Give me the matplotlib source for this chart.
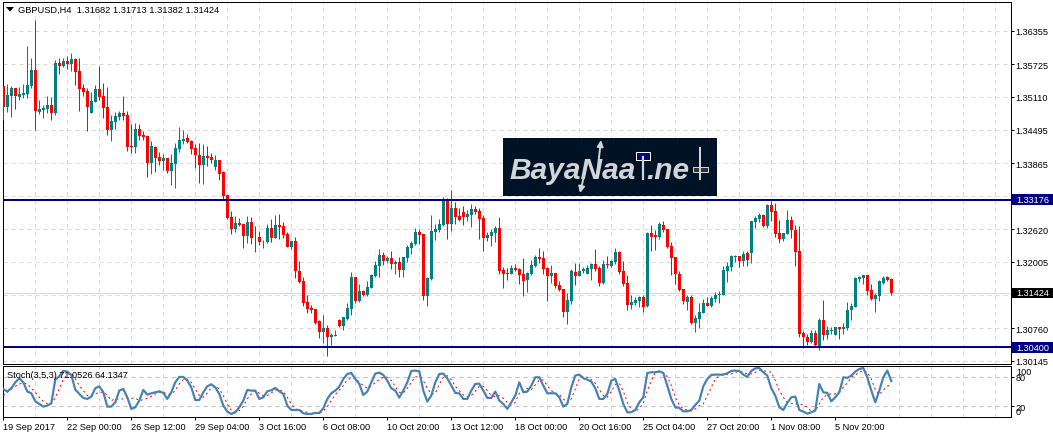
import matplotlib
matplotlib.use("Agg")
import matplotlib.pyplot as plt
from matplotlib.patches import Rectangle
import numpy as np

# GBPUSD H4 bars, one entry per candle
opens = [
    1.35326, 1.34918, 1.35137, 1.35288, 1.35119, 1.35156, 1.35175, 1.35326, 1.35627, 1.34836,
    1.34874, 1.34893, 1.34968, 1.34817, 1.35758, 1.35702, 1.35796, 1.35740, 1.35834, 1.35608,
    1.35288, 1.35231, 1.34817, 1.35024, 1.35269, 1.35137, 1.34930, 1.34498, 1.34648, 1.34742,
    1.34817, 1.34780, 1.34196, 1.34178, 1.34516, 1.34403, 1.34385, 1.33876, 1.34178, 1.33989,
    1.33914, 1.33971, 1.33726, 1.33858, 1.34140, 1.34291, 1.34347, 1.34291, 1.34159, 1.34027,
    1.33839, 1.34008, 1.33989, 1.33801, 1.33933, 1.33707, 1.33275, 1.32861, 1.32635, 1.32748,
    1.32729, 1.32503, 1.32767, 1.32484, 1.32484, 1.32397, 1.32390, 1.32654, 1.32466, 1.32710,
    1.32691, 1.32541, 1.32296, 1.32409, 1.31844, 1.31656, 1.31261, 1.31148, 1.31129, 1.30904,
    1.30696, 1.30772, 1.30602, 1.30621, 1.30922, 1.30809, 1.30941, 1.31129, 1.31732, 1.31280,
    1.31468, 1.31393, 1.31525, 1.31750, 1.31939, 1.32146, 1.32033, 1.32089, 1.31976, 1.32014,
    1.31863, 1.32089, 1.32277, 1.32353, 1.32578, 1.32541, 1.31374, 1.31694, 1.32578, 1.32616,
    1.32710, 1.33181, 1.32729, 1.33030, 1.32880, 1.32955, 1.32861, 1.32898, 1.33011, 1.32974,
    1.32842, 1.32466, 1.32503, 1.32560, 1.32654, 1.31863, 1.31807, 1.31788, 1.31901, 1.31882,
    1.31788, 1.31675, 1.31788, 1.31939, 1.32108, 1.32089, 1.31901, 1.31750, 1.31801, 1.31581,
    1.31506, 1.31073, 1.31280, 1.31826, 1.31750, 1.31845, 1.31788, 1.31882, 1.31976, 1.31901,
    1.31619, 1.31976, 1.31939, 1.32014, 1.32202, 1.31845, 1.31619, 1.31205, 1.31242, 1.31280,
    1.31355, 1.31186, 1.32560, 1.32522, 1.32484, 1.32710, 1.32635, 1.32315, 1.32108, 1.31788,
    1.31506, 1.31261, 1.31355, 1.30866, 1.30941, 1.31054, 1.31242, 1.31186, 1.31318, 1.31387,
    1.31393, 1.31845, 1.31920, 1.32108, 1.32127, 1.32033, 1.32183, 1.32183, 1.32767, 1.32823,
    1.32898, 1.32691, 1.33087, 1.32974, 1.32560, 1.32447, 1.32541, 1.32804, 1.32616, 1.32221,
    1.30678, 1.30602, 1.30508, 1.30678, 1.30433, 1.30922, 1.30640, 1.30715, 1.30640, 1.30791,
    1.30753, 1.30772, 1.31111, 1.31167, 1.31694, 1.31713, 1.31769, 1.31487, 1.31318, 1.31374,
    1.31619, 1.31732, 1.31682,
]
closes = [
    1.34924, 1.35156, 1.35288, 1.35125, 1.35175, 1.35194, 1.35344, 1.35627, 1.34843, 1.34893,
    1.34912, 1.34968, 1.34811, 1.35758, 1.35702, 1.35796, 1.35740, 1.35834, 1.35589, 1.35269,
    1.35213, 1.34930, 1.35043, 1.35269, 1.35119, 1.34912, 1.34498, 1.34667, 1.34761, 1.34817,
    1.34761, 1.34178, 1.34178, 1.34516, 1.34385, 1.34366, 1.33876, 1.34196, 1.33971, 1.33914,
    1.33971, 1.33726, 1.33876, 1.34159, 1.34309, 1.34328, 1.34272, 1.34140, 1.34027, 1.33839,
    1.34008, 1.33971, 1.33933, 1.33933, 1.33669, 1.33255, 1.32836, 1.32635, 1.32748, 1.32710,
    1.32503, 1.32767, 1.32466, 1.32472, 1.32390, 1.32409, 1.32654, 1.32466, 1.32710, 1.32673,
    1.32522, 1.32296, 1.32409, 1.31844, 1.31637, 1.31242, 1.31129, 1.31111, 1.30866, 1.30696,
    1.30772, 1.30602, 1.30640, 1.30640, 1.30809, 1.30979, 1.31148, 1.31732, 1.31280, 1.31468,
    1.31393, 1.31543, 1.31769, 1.31957, 1.32146, 1.32033, 1.32089, 1.31976, 1.32014, 1.31863,
    1.32108, 1.32296, 1.32371, 1.32578, 1.32522, 1.31374, 1.31713, 1.32597, 1.32635, 1.32729,
    1.33181, 1.32729, 1.33030, 1.32861, 1.32804, 1.32861, 1.32917, 1.33011, 1.32955, 1.32823,
    1.32466, 1.32522, 1.32578, 1.32654, 1.31844, 1.31788, 1.31788, 1.31901, 1.31863, 1.31769,
    1.31656, 1.31807, 1.31957, 1.32108, 1.32070, 1.31882, 1.31750, 1.31801, 1.31562, 1.31481,
    1.31073, 1.31299, 1.31845, 1.31750, 1.31845, 1.31882, 1.31901, 1.31976, 1.31882, 1.31619,
    1.31976, 1.31957, 1.32033, 1.32202, 1.31826, 1.31600, 1.31205, 1.31261, 1.31299, 1.31355,
    1.31167, 1.32560, 1.32484, 1.32484, 1.32729, 1.32616, 1.32296, 1.32089, 1.31788, 1.31487,
    1.31280, 1.31355, 1.30866, 1.30960, 1.31073, 1.31242, 1.31186, 1.31336, 1.31393, 1.31393,
    1.31863, 1.31939, 1.32127, 1.32127, 1.32033, 1.32164, 1.32051, 1.32785, 1.32842, 1.32898,
    1.32691, 1.33087, 1.32955, 1.32541, 1.32447, 1.32560, 1.32804, 1.32616, 1.32202, 1.30659,
    1.30602, 1.30508, 1.30678, 1.30452, 1.30922, 1.30640, 1.30734, 1.30734, 1.30791, 1.30753,
    1.30791, 1.31111, 1.31186, 1.31713, 1.31732, 1.31769, 1.31468, 1.31318, 1.31393, 1.31656,
    1.31713, 1.31675, 1.31424,
]
highs = [
    1.35326, 1.35363, 1.35326, 1.35288, 1.35300, 1.35363, 1.36078, 1.35853, 1.36568, 1.35062,
    1.34968, 1.35137, 1.35112, 1.35802, 1.35853, 1.35853, 1.35878, 1.35947, 1.35846, 1.35846,
    1.35363, 1.35288, 1.35213, 1.35344, 1.35702, 1.35382, 1.35300, 1.34767, 1.34836, 1.34855,
    1.35137, 1.34855, 1.34610, 1.34629, 1.34610, 1.34479, 1.34385, 1.34291, 1.34196, 1.34083,
    1.34046, 1.33971, 1.34046, 1.34253, 1.34554, 1.34498, 1.34422, 1.34309, 1.34234, 1.34253,
    1.34234, 1.34196, 1.34065, 1.34027, 1.33933, 1.33726, 1.33275, 1.32974, 1.32880, 1.32836,
    1.32729, 1.32880, 1.32861, 1.32691, 1.32597, 1.32428, 1.32729, 1.32823, 1.32898, 1.32917,
    1.32767, 1.32578, 1.32409, 1.32484, 1.32033, 1.31732, 1.31393, 1.31205, 1.31129, 1.30922,
    1.31016, 1.30828, 1.30678, 1.30734, 1.30941, 1.30979, 1.31242, 1.31826, 1.31732, 1.31600,
    1.31487, 1.31656, 1.31788, 1.32033, 1.32258, 1.32202, 1.32127, 1.32221, 1.32051, 1.32108,
    1.32108, 1.32334, 1.32409, 1.32654, 1.32635, 1.32541, 1.31732, 1.32898, 1.32729, 1.32823,
    1.33237, 1.33218, 1.33369, 1.33143, 1.33030, 1.33068, 1.32992, 1.33105, 1.33068, 1.33030,
    1.32898, 1.32578, 1.32635, 1.32691, 1.32861, 1.31920, 1.31901, 1.31957, 1.31976, 1.31901,
    1.32089, 1.31826, 1.32051, 1.32146, 1.32277, 1.32221, 1.31920, 1.31957, 1.31801, 1.31644,
    1.31506, 1.31424, 1.31882, 1.31989, 1.31989, 1.31920, 1.31957, 1.31995, 1.32259, 1.31939,
    1.32052, 1.32127, 1.32052, 1.32277, 1.32221, 1.32033, 1.31769, 1.31393, 1.31355, 1.31374,
    1.31393, 1.32578, 1.32710, 1.32616, 1.32767, 1.32785, 1.32635, 1.32390, 1.32108, 1.31845,
    1.31506, 1.31393, 1.31393, 1.31017, 1.31242, 1.31318, 1.31355, 1.31374, 1.31449, 1.31468,
    1.31939, 1.32014, 1.32146, 1.32146, 1.32127, 1.32221, 1.32221, 1.32785, 1.32880, 1.32936,
    1.32917, 1.33105, 1.33162, 1.33124, 1.32804, 1.32560, 1.32992, 1.32880, 1.32710, 1.32691,
    1.30715, 1.30659, 1.30734, 1.30734, 1.30960, 1.31299, 1.30809, 1.30791, 1.30791, 1.30791,
    1.30866, 1.31261, 1.31242, 1.31732, 1.31750, 1.31769, 1.31769, 1.31600, 1.31430, 1.31675,
    1.31750, 1.31750, 1.31713,
]
lows = [
    1.34673, 1.34824, 1.34730, 1.34893, 1.35062, 1.35087, 1.35087, 1.35282, 1.34498, 1.34799,
    1.34711, 1.34811, 1.34686, 1.34767, 1.35551, 1.35677, 1.35645, 1.35602, 1.35344, 1.34855,
    1.35125, 1.34479, 1.34817, 1.35024, 1.35062, 1.34723, 1.34403, 1.34291, 1.34516, 1.34686,
    1.34673, 1.34102, 1.34065, 1.34065, 1.34309, 1.34309, 1.33613, 1.33669, 1.33707, 1.33839,
    1.33745, 1.33688, 1.33463, 1.33406, 1.34083, 1.34234, 1.34253, 1.34046, 1.33782, 1.33500,
    1.33481, 1.33820, 1.33876, 1.33745, 1.33557, 1.33180, 1.32823, 1.32541, 1.32578, 1.32691,
    1.32277, 1.32371, 1.32353, 1.32202, 1.32334, 1.32277, 1.32365, 1.32390, 1.32466, 1.32447,
    1.32466, 1.32296, 1.32258, 1.31713, 1.31619, 1.31186, 1.31054, 1.31054, 1.30847, 1.30584,
    1.30489, 1.30245, 1.30452, 1.30621, 1.30791, 1.30734, 1.30922, 1.31016, 1.31242, 1.31261,
    1.31374, 1.31374, 1.31525, 1.31732, 1.31732, 1.31957, 1.31995, 1.31882, 1.31788, 1.31732,
    1.31732, 1.32014, 1.32164, 1.32334, 1.32353, 1.31299, 1.31186, 1.31675, 1.32428, 1.32578,
    1.32691, 1.32447, 1.32597, 1.32729, 1.32785, 1.32710, 1.32785, 1.32673, 1.32917, 1.32447,
    1.32221, 1.32409, 1.32315, 1.32390, 1.31788, 1.31525, 1.31675, 1.31788, 1.31844, 1.31600,
    1.31374, 1.31449, 1.31769, 1.31920, 1.31995, 1.31788, 1.31280, 1.31612, 1.31512, 1.31456,
    1.30966, 1.30847, 1.31223, 1.31581, 1.31750, 1.31807, 1.31788, 1.31675, 1.31845, 1.31562,
    1.31600, 1.31901, 1.31920, 1.31976, 1.31788, 1.31562, 1.31111, 1.31129, 1.31205, 1.31167,
    1.31073, 1.31167, 1.32221, 1.32240, 1.32447, 1.32578, 1.32277, 1.31769, 1.31600, 1.31468,
    1.31223, 1.31111, 1.30847, 1.30684, 1.30772, 1.31054, 1.31186, 1.31167, 1.31261, 1.31242,
    1.31393, 1.31637, 1.31845, 1.32014, 1.31920, 1.31939, 1.31939, 1.31995, 1.32654, 1.32767,
    1.32673, 1.32654, 1.32785, 1.32484, 1.32371, 1.32409, 1.32541, 1.32466, 1.31939, 1.30602,
    1.30395, 1.30452, 1.30483, 1.30414, 1.30358, 1.30546, 1.30565, 1.30659, 1.30640, 1.30565,
    1.30659, 1.30734, 1.30922, 1.31167, 1.31637, 1.31600, 1.31393, 1.31299, 1.31073, 1.31280,
    1.31600, 1.31656, 1.31382,
]

stoch_main = [
    55.0, 49.7, 56.4, 68.5, 76.6, 68.5, 49.7, 46.3, 30.1, 24.8,
    19.4, 21.4, 26.1, 73.9, 80.6, 91.4, 90.0, 83.3, 53.7, 45.0,
    36.9, 34.9, 39.6, 56.4, 60.4, 48.3, 19.4, 19.4, 28.1, 51.7,
    55.0, 38.2, 14.7, 18.0, 31.5, 53.0, 43.6, 46.3, 48.3, 50.3,
    47.0, 34.9, 48.3, 68.5, 79.3, 79.3, 71.9, 58.4, 32.8, 32.8,
    48.3, 60.4, 64.5, 58.4, 45.0, 21.4, 9.3, 4.6, 7.9, 18.0,
    31.5, 53.0, 51.7, 51.7, 34.9, 38.2, 50.3, 52.3, 57.1, 50.3,
    45.0, 21.4, 12.6, 12.6, 12.6, 5.9, 4.6, 4.6, 6.6, 6.6,
    16.0, 34.9, 46.3, 51.7, 59.8, 75.2, 85.3, 87.3, 75.2, 65.1,
    42.9, 49.7, 68.5, 86.0, 88.0, 83.3, 71.9, 56.4, 51.7, 37.5,
    51.7, 68.5, 91.4, 92.1, 90.7, 51.7, 29.5, 41.6, 68.5, 85.3,
    86.0, 76.6, 61.8, 47.0, 46.3, 34.9, 34.9, 51.7, 65.1, 65.8,
    51.7, 36.9, 36.9, 49.7, 31.5, 24.8, 14.7, 28.1, 41.6, 68.5,
    48.3, 49.7, 61.8, 78.6, 78.6, 61.8, 46.3, 46.3, 46.3, 38.2,
    19.4, 24.8, 58.4, 82.0, 84.0, 76.6, 73.9, 69.8, 56.4, 34.9,
    34.9, 45.0, 71.9, 75.2, 51.7, 24.8, 7.9, 7.9, 12.6, 28.1,
    38.2, 87.3, 88.7, 88.7, 90.7, 87.3, 61.8, 34.9, 18.0, 16.7,
    9.9, 9.9, 12.6, 22.7, 31.5, 60.4, 75.2, 83.3, 84.0, 84.0,
    84.0, 86.7, 91.4, 92.1, 91.4, 84.0, 79.3, 91.4, 96.8, 97.4,
    88.7, 82.0, 56.4, 41.6, 18.0, 12.6, 26.8, 38.2, 39.6, 12.6,
    9.3, 5.2, 7.9, 11.3, 65.1, 48.3, 47.0, 30.1, 38.2, 48.3,
    78.6, 77.3, 82.0, 90.0, 95.4, 97.4, 78.6, 51.7, 28.1, 51.7,
    78.6, 92.1, 71.05,
]
stoch_signal = [
    41.6, 48.3, 55.0, 60.4, 65.1, 67.2, 65.1, 56.4, 48.3, 38.2,
    30.1, 24.8, 24.8, 38.2, 55.0, 75.2, 83.3, 87.3, 75.2, 61.8,
    51.7, 41.6, 41.6, 45.0, 48.3, 48.3, 42.9, 31.5, 34.9, 34.9,
    34.9, 36.9, 36.2, 36.2, 31.5, 33.5, 36.2, 40.2, 45.0, 48.3,
    48.3, 44.3, 45.0, 51.7, 65.1, 73.9, 75.2, 68.5, 55.0, 41.6,
    38.2, 47.0, 57.7, 60.4, 55.0, 41.6, 24.8, 11.3, 7.9, 11.3,
    20.0, 34.9, 45.0, 51.7, 46.3, 41.6, 41.6, 47.0, 53.0, 53.0,
    50.3, 38.2, 24.8, 14.7, 12.6, 9.9, 7.9, 4.6, 5.2, 5.9,
    9.9, 19.4, 31.5, 43.6, 53.0, 61.8, 73.9, 76.6, 76.6, 68.5,
    61.8, 56.4, 60.4, 68.5, 73.9, 78.6, 78.6, 71.9, 59.8, 48.3,
    47.0, 56.4, 68.5, 79.9, 78.6, 71.9, 56.4, 45.0, 46.3, 65.1,
    78.6, 82.0, 73.9, 60.4, 51.7, 42.9, 39.6, 41.6, 50.3, 60.4,
    60.4, 51.7, 41.6, 39.6, 41.6, 36.2, 28.1, 22.7, 28.1, 46.3,
    53.0, 56.4, 53.7, 63.1, 73.2, 73.2, 61.8, 51.7, 46.3, 43.6,
    34.9, 27.4, 34.9, 55.0, 75.2, 80.6, 78.6, 73.9, 66.5, 53.7,
    41.6, 38.2, 50.3, 63.8, 66.5, 50.3, 28.1, 13.3, 9.3, 16.0,
    26.1, 51.7, 71.9, 88.0, 89.4, 88.7, 79.9, 61.8, 38.2, 22.7,
    14.7, 12.6, 10.6, 14.7, 21.4, 24.8, 41.6, 58.4, 75.2, 82.0,
    84.0, 84.0, 85.3, 88.7, 90.7, 88.7, 85.3, 85.3, 88.7, 92.1,
    92.1, 90.0, 88.7, 71.9, 51.7, 38.2, 28.1, 26.1, 24.8, 24.8,
    22.7, 18.0, 9.3, 9.9, 24.8, 38.2, 43.6, 45.0, 45.0, 50.3,
    58.4, 67.2, 78.6, 83.3, 88.7, 92.7, 88.7, 75.2, 53.7, 43.6,
    53.0, 60.4, 64.13,
]

price_ticks = [1.36355, 1.35725, 1.35110, 1.34495, 1.33865, 1.33250, 1.32620, 1.32005, 1.31375, 1.30760, 1.30145]
price_labels = ["1.36355", "1.35725", "1.35110", "1.34495", "1.33865", "", "1.32620", "1.32005", "", "1.30760", "1.30145"]
levels = [1.33176, 1.30400]
last_price = 1.31424
stoch_levels = [80, 20]
time_labels = [
    "19 Sep 2017", "22 Sep 00:00", "26 Sep 12:00", "29 Sep 04:00", "3 Oct 16:00", "6 Oct 08:00", "10 Oct 20:00",
    "13 Oct 12:00", "18 Oct 00:00", "20 Oct 16:00", "25 Oct 04:00", "27 Oct 20:00", "1 Nov 08:00", "5 Nov 20:00",
]

W, H = 1053, 439
UP = "#008080"
DOWN = "#FF0000"
NAVY = "#000080"
GRID = "#D8D8D8"
FS = 6.6
px = 72 / 100
price_per_px = 0.00018818

plt.rcParams["font.family"] = "Liberation Sans"
fig = plt.figure(figsize=(W / 100, H / 100), dpi=100, facecolor="white")


def add_panel(top, bottom):
    return fig.add_axes([2.5 / W, 1 - bottom / H, 1008 / W, (bottom - top) / H])


def price_box(ax, price, color, height):
    half = height / 2 * price_per_px
    ax.add_patch(Rectangle((1 + 1.5 / 1008, price - half), 42 / 1008, 2 * half, facecolor=color, edgecolor="none",
                           transform=ax.get_yaxis_transform(), clip_on=False, zorder=5))
    ax.annotate(f"{price:.5f}", xy=(1, price), xycoords=("axes fraction", "data"),
                xytext=(5.5 * px, 0), textcoords="offset points", va="center", ha="left",
                color="white", fontsize=FS, annotation_clip=False, zorder=6)


ax = add_panel(2.5, 364.5)
sub = add_panel(366.5, 418)

x = np.arange(len(opens))
opens = np.array(opens)
closes = np.array(closes)
up = closes >= opens
colors = np.where(up, UP, DOWN)

ax.vlines(x, lows, highs, colors=colors, linewidth=1 * px, zorder=3)
ax.bar(x, np.maximum(np.abs(closes - opens), 0.00012), bottom=np.minimum(opens, closes),
       width=0.75, color=colors, linewidth=0, zorder=3)

ax.set_xlim(-0.2, 251.8)
ax.set_ylim(1.30095, 1.36907)
sub.set_xlim(-0.2, 251.8)
sub.set_ylim(-1.6, 102.4)

bar_grid = np.arange(0, 252, 8)
for a in (ax, sub):
    a.set_xticks(bar_grid, minor=True)
    a.grid(True, which="minor", axis="x", color=GRID, linewidth=1 * px, linestyle=(0, (4, 4)), zorder=0)
    a.tick_params(axis="x", which="minor", length=0)
    a.set_axisbelow(True)
    for spine in a.spines.values():
        spine.set_linewidth(1 * px)

ax.axhline(last_price, color=GRID, linewidth=1 * px, zorder=1)
ax.grid(True, which="major", axis="y", color=GRID, linewidth=1 * px, linestyle=(0, (4, 4)), zorder=0)
ax.yaxis.tick_right()
ax.set_yticks(price_ticks, price_labels)
ax.tick_params(axis="y", length=3 * px, width=1 * px, pad=2 * px, labelsize=FS)
ax.set_xticks([])

for level in levels:
    ax.axhline(level, color=NAVY, linewidth=2 * px, zorder=4)
    price_box(ax, level, NAVY, 11)
price_box(ax, last_price, "black", 10)

# stochastic panel
sub.plot(x, stoch_signal, color="#FF0000", linewidth=1 * px, linestyle=(0, (2, 3)), zorder=3)
sub.plot(x, stoch_main, color="#4682B4", linewidth=2.2 * px, zorder=4)
sub.yaxis.tick_right()
sub.set_yticks(stoch_levels, [str(v) for v in stoch_levels])
sub.grid(True, which="major", axis="y", color="#BEBEBE", linewidth=1 * px, linestyle=(0, (4, 4)), zorder=0)
sub.tick_params(axis="y", length=3 * px, width=1 * px, pad=2 * px, labelsize=FS)
sub.set_xticks(np.arange(0, 16 * len(time_labels), 16), time_labels, ha="left")
sub.tick_params(axis="x", length=3 * px, width=1 * px, pad=2.5 * px, labelsize=FS)
for value, shift in ((100, -5), (0, 5)):
    sub.annotate(str(value), xy=(1, value), xycoords=("axes fraction", "data"),
                 xytext=(5.5 * px, shift * px), textcoords="offset points", va="center", ha="left",
                 fontsize=FS, annotation_clip=False)

# overlay in pixel coordinates for the captions and the logo
over = fig.add_axes([0, 0, 1, 1], facecolor="none", zorder=10)
over.set_xlim(0, W)
over.set_ylim(H, 0)
over.axis("off")

over.fill([6, 14, 10], [8, 8, 12.5], color="black", linewidth=0)
over.text(18, 10, "GBPUSD,H4  1.31682 1.31713 1.31382 1.31424", fontsize=6.7, va="center")
over.text(7, 375.5, "Stoch(3,5,3) 71.0526 64.1347", fontsize=FS, va="center")

LOGO = "#001226"
LOGO_TEXT = "#D2D5D7"
over.add_patch(Rectangle((503, 139), 214, 58, facecolor=LOGO, edgecolor="none"))
over.text(509, 179.5, "BayaNaa", family="Liberation Sans", style="italic", weight="bold",
          fontsize=21.5, color=LOGO_TEXT, va="baseline", ha="left")
over.text(646, 179.5, ".ne", family="Liberation Sans", style="italic", weight="bold",
          fontsize=21.5, color=LOGO_TEXT, va="baseline", ha="left")
over.plot([642.7, 642.7], [158, 180], color=LOGO_TEXT, linewidth=2.2 * px)
over.add_patch(Rectangle((635.5, 153), 14.5, 7.5, facecolor=NAVY, edgecolor="white", linewidth=1 * px))
over.plot([700, 700], [149, 180], color=LOGO_TEXT, linewidth=2 * px)
over.add_patch(Rectangle((693, 168), 14.5, 5, facecolor="#303438", edgecolor=LOGO_TEXT, linewidth=1 * px))
over.annotate("", xy=(601, 141), xytext=(597, 176),
              arrowprops=dict(arrowstyle="-|>", color=LOGO_TEXT, lw=1.4, mutation_scale=9, shrinkA=0, shrinkB=0))
over.annotate("", xy=(580, 194), xytext=(587, 164),
              arrowprops=dict(arrowstyle="-|>", color=LOGO_TEXT, lw=1.4, mutation_scale=9, shrinkA=0, shrinkB=0))

fig.savefig("out.png", dpi=100)
